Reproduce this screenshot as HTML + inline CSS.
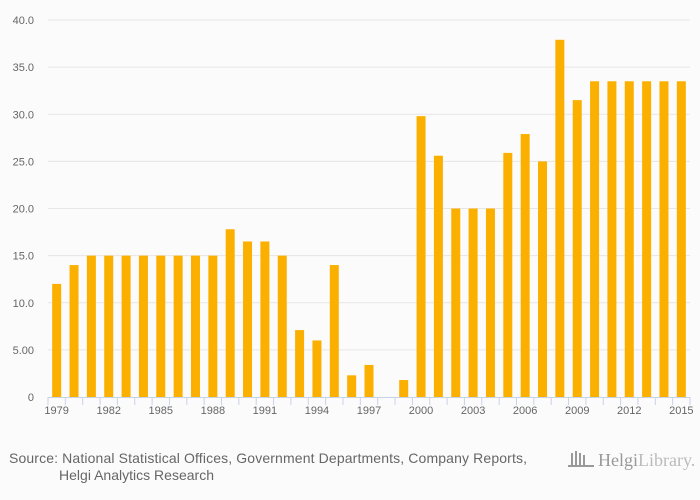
<!DOCTYPE html>
<html><head><meta charset="utf-8"><style>
html,body{margin:0;padding:0;background:#fbfbfb;}
svg{display:block;font-family:"Liberation Sans",sans-serif;}
</style></head><body>
<svg id="c" width="700" height="500">
<g id="grid"></g><g id="bars"></g><g id="axis"></g>
<text x="9" y="463" font-size="14" fill="#666" textLength="518">Source: National Statistical Offices, Government Departments, Company Reports,</text>
<text x="59" y="480" font-size="14" fill="#666" textLength="155">Helgi Analytics Research</text>
<g>
<rect x="571" y="453" width="2" height="12" fill="#999"/><rect x="575" y="451" width="2" height="14" fill="#999"/><rect x="579" y="453" width="2" height="12" fill="#999"/><rect x="583" y="455" width="2" height="10" fill="#999"/><rect x="568" y="465" width="26" height="2" fill="#999"/>
<text x="598" y="466" font-size="18" fill="#999" font-family="Liberation Serif,serif">Helgi<tspan fill="#bbb">Library.</tspan></text>
</g>
</svg>
<script>
const years=[1979,1980,1981,1982,1983,1984,1985,1986,1987,1988,1989,1990,1991,1992,1993,1994,1995,1996,1997,1998,1999,2000,2001,2002,2003,2004,2005,2006,2007,2008,2009,2010,2011,2012,2013,2014,2015];
const values=[12,14,15,15,15,15,15,15,15,15,17.8,16.5,16.5,15,7.1,6,14,2.3,3.4,0,1.8,29.8,25.6,20,20,20,25.9,27.9,25,37.9,31.5,33.5,33.5,33.5,33.5,33.5,33.5];
const yTicks=[0,5,10,15,20,25,30,35,40];
const yLabels=["0","5.00","10.0","15.0","20.0","25.0","30.0","35.0","40.0"];
const ns="http://www.w3.org/2000/svg";
const x0=48,x1=690,y0=397,yTop=20,yMax=40;
const bw=(x1-x0)/years.length;
const y=v=>y0-(v/yMax)*(y0-yTop);
const xc=i=>x0+bw*(i+0.5);
function mk(t,a,p){const e=document.createElementNS(ns,t);for(const k in a)e.setAttribute(k,a[k]);p.appendChild(e);return e;}
const G=document.getElementById('grid'),B=document.getElementById('bars'),A=document.getElementById('axis');
yTicks.forEach((t,i)=>{
 if(t>0){const l=mk('line',{x1:x0,x2:x1,y1:y(t),y2:y(t),stroke:'#e6e6e6','stroke-width':1},G);
 
 }
 const tx=mk('text',{x:34,y:y(t)+4,'font-size':11,fill:'#666','text-anchor':'end'},G);
 tx.textContent=yLabels[i];
 
 
});
values.forEach((v,i)=>{
 const r=mk('rect',{x:xc(i)-4.5,y:y(v),width:9,height:y0-y(v),fill:'#fbb000'},B);
 
 
});
const ax=mk('line',{x1:x0,x2:x1,y1:y0+0.5,y2:y0+0.5,stroke:'#c8d2e6'},A);


for(let i=0;i<=years.length;i++){
 const tk=mk('line',{x1:x0+bw*i,x2:x0+bw*i,y1:y0,y2:y0+8,stroke:'#c8d2e6'},A);
 
 
}
years.forEach((yr,i)=>{ if(i%3===0){
 const t=mk('text',{x:xc(i),y:y0+17,'font-size':11,fill:'#666','text-anchor':'middle'},A);
 t.textContent=yr;
 
 
}});
</script>
</body></html>
